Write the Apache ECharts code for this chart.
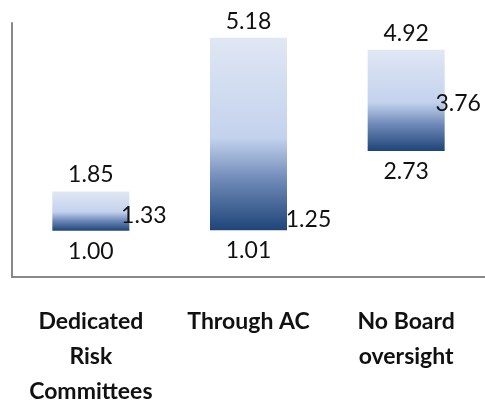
<!DOCTYPE html>
<html>
<head>
<meta charset="utf-8">
<script src="https://cdn.jsdelivr.net/npm/echarts@6/dist/echarts.min.js"></script>
<style>html,body{margin:0;padding:0;background:#fff}#c{width:485px;height:400px}</style>
</head>
<body>
<div id="c"></div>
<script>
const categories = ['Dedicated\nRisk\nCommittees', 'Through AC', 'No Board\noversight'];
const lowValues = [1.00, 1.01, 2.73];
const midValues = [1.33, 1.25, 3.76];
const highValues = [1.85, 5.18, 4.92];

const midLabelShift = [53, 60, 52];
const font = 'Lato';

const chart = echarts.init(document.getElementById('c'), null, {renderer: 'canvas'});
const gradient = new echarts.graphic.LinearGradient(0, 0, 0, 1, [
  {offset: 0, color: '#e0e7f4'},
  {offset: 0.52, color: '#c3d2ed'},
  {offset: 0.75, color: '#6a86b5'},
  {offset: 1, color: '#1f4478'}
]);

chart.setOption({
  animation: false,
  grid: {left: 12, right: 0, top: 23, bottom: 123, containLabel: false, outerBoundsMode: 'none'},
  xAxis: {
    type: 'category',
    data: categories,
    axisLine: {lineStyle: {color: '#888888', width: 2}},
    axisTick: {show: false},
    axisLabel: {
      margin: 27,
      fontFamily: font, fontWeight: 'bold', fontSize: 23,
      lineHeight: 35, color: '#111', interval: 0
    }
  },
  yAxis: {
    type: 'value', min: 0, max: 5.5,
    axisLine: {show: true, lineStyle: {color: '#888888', width: 2}},
    axisTick: {show: false},
    axisLabel: {show: false},
    splitLine: {show: false}
  },
  series: [
    {
      type: 'bar', stack: 'r', barWidth: 77,
      data: lowValues,
      itemStyle: {color: 'rgba(0,0,0,0)'},
      label: {
        show: true, position: 'insideTop', distance: 9,
        fontFamily: font, fontSize: 23, color: '#111',
        formatter: p => lowValues[p.dataIndex].toFixed(2)
      }
    },
    {
      type: 'bar', stack: 'r', barWidth: 77,
      data: highValues.map((h, i) => h - lowValues[i]),
      itemStyle: {color: gradient},
      label: {
        show: true, position: 'top', distance: 5,
        fontFamily: font, fontSize: 23, color: '#111',
        formatter: p => highValues[p.dataIndex].toFixed(2)
      }
    },
    {
      type: 'scatter', symbolSize: 0, z: 5,
      itemStyle: {opacity: 1},
      data: midValues.map((v, i) => ({
        value: v,
        label: {offset: [midLabelShift[i], 0]}
      })),
      label: {
        show: true, position: 'inside', opacity: 1,
        fontFamily: font, fontSize: 23, color: '#111',
        formatter: p => midValues[p.dataIndex].toFixed(2)
      }
    }
  ]
});
</script>
</body>
</html>
